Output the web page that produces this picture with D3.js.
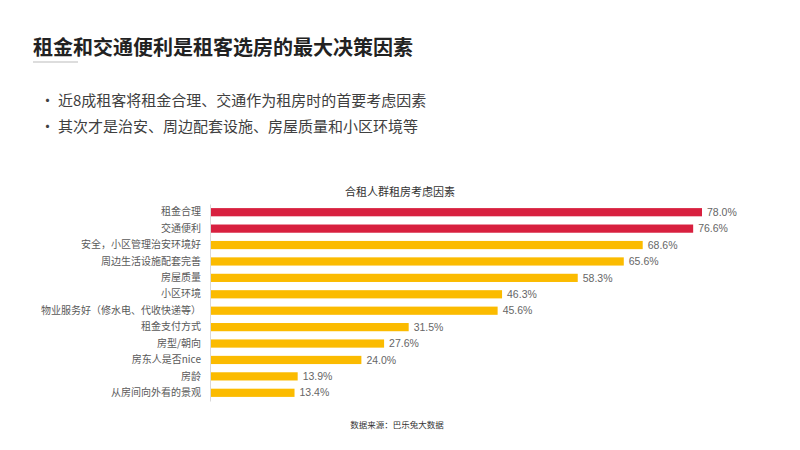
<!DOCTYPE html>
<html>
<head>
	<meta charset="utf-8">
	<title>合租人群租房考虑因素</title>
	<script src="https://d3js.org/d3.v7.min.js"></script>
	<style>
	body{
		margin: 0;
		background: #ffffff;
		font-family: "Noto Sans CJK SC", "Noto Sans", sans-serif;
	}
	</style>
</head>
<body>
	<div id="chart"></div>
	<script>
		var categories = ["租金合理", "交通便利", "安全，小区管理治安环境好", "周边生活设施配套完善", "房屋质量", "小区环境",
			"物业服务好（修水电、代收快递等）", "租金支付方式", "房型/朝向", "房东人是否nice", "房龄", "从房间向外看的景观"];
		var values = [78.0, 76.6, 68.6, 65.6, 58.3, 46.3, 45.6, 31.5, 27.6, 24.0, 13.9, 13.4];
		var highlight = [true, true, false, false, false, false, false, false, false, false, false, false];

		var title = "租金和交通便利是租客选房的最大决策因素";
		var bullets = ["近8成租客将租金合理、交通作为租房时的首要考虑因素", "其次才是治安、周边配套设施、房屋质量和小区环境等"];
		var chartTitle = "合租人群租房考虑因素";
		var source = "数据来源：巴乐兔大数据";

		var width = 800, height = 450;

		var svg = d3.select("#chart").append("svg")
			.attr("width", width)
			.attr("height", height);

		// header
		svg.append("text")
			.attr("x", 33).attr("y", 55)
			.attr("font-size", 20).attr("font-weight", "bold")
			.attr("fill", "#222222")
			.text(title);
		svg.append("line")
			.attr("x1", 33).attr("x2", 78).attr("y1", 62).attr("y2", 62)
			.attr("stroke", "#bbbbbb").attr("stroke-width", 1);

		var b = svg.selectAll(".bullet")
			.data(bullets)
			.enter().append("g")
			.attr("class", "bullet")
			.attr("transform", function(d, i){ return "translate(0," + (106 + i * 26) + ")"; });
		b.append("text")
			.attr("x", 40)
			.attr("font-size", 15)
			.attr("fill", "#404040")
			.text("•");
		b.append("text")
			.attr("x", 58)
			.attr("font-size", 15)
			.attr("fill", "#404040")
			.text(function(d){ return d; });

		// chart
		var x = d3.scaleLinear().domain([0, 78]).range([210, 702]);
		var y = d3.scaleBand().domain(categories).range([204, 401]).paddingInner(0.5).paddingOuter(0.25);

		svg.append("text")
			.attr("x", 400).attr("y", 196)
			.attr("text-anchor", "middle")
			.attr("font-size", 11)
			.attr("fill", "#333333")
			.text(chartTitle);

		svg.selectAll(".bar")
			.data(values)
			.enter().append("rect")
			.attr("class", "bar")
			.attr("x", x(0))
			.attr("y", function(d, i){ return y(categories[i]); })
			.attr("width", function(d){ return x(d) - x(0); })
			.attr("height", y.bandwidth())
			.attr("fill", function(d, i){ return highlight[i] ? "#d8203f" : "#fbbb00"; });

		var axis = svg.append("g")
			.attr("transform", "translate(" + x(0) + ",0)")
			.call(d3.axisLeft(y).tickSize(0).tickPadding(9));
		axis.select(".domain").attr("stroke", "#d9d9d9");
		axis.selectAll("text")
			.attr("font-size", 10)
			.attr("fill", "#595959")
			.attr("font-family", "\"Noto Sans CJK SC\", sans-serif");

		svg.selectAll(".val")
			.data(values)
			.enter().append("text")
			.attr("class", "val")
			.attr("x", function(d){ return x(d) + 5; })
			.attr("y", function(d, i){ return y(categories[i]) + y.bandwidth() / 2; })
			.attr("dy", "0.35em")
			.attr("font-size", 10.5)
			.attr("font-family", "Arial, \"Liberation Sans\", sans-serif")
			.attr("fill", "#666666")
			.text(function(d){ return d.toFixed(1) + "%"; });

		svg.append("text")
			.attr("x", 397).attr("y", 428)
			.attr("text-anchor", "middle")
			.attr("font-size", 8.5)
			.attr("fill", "#333333")
			.text(source);
	</script>
</body>
</html>
